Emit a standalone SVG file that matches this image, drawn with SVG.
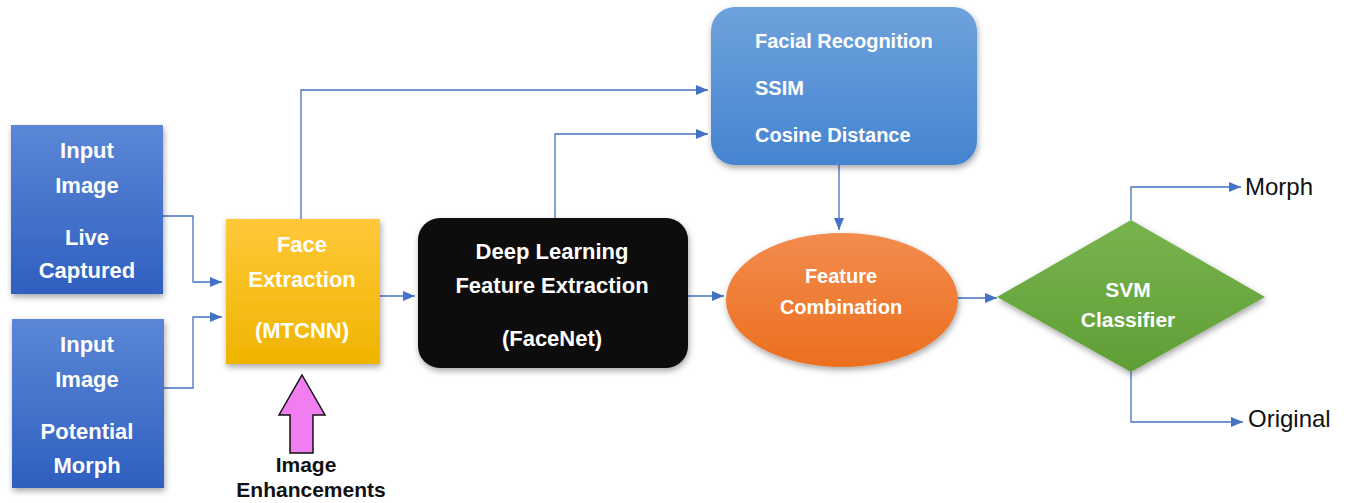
<svg xmlns="http://www.w3.org/2000/svg" width="1347" height="503" viewBox="0 0 1347 503">
  <style>
    .lbl { font-family: "Liberation Sans", Arial, sans-serif; font-weight: bold; fill: #ffffff; text-anchor: middle; }
    .lblL { font-family: "Liberation Sans", Arial, sans-serif; font-weight: bold; fill: #ffffff; }
    .dark { font-family: "Liberation Sans", Arial, sans-serif; font-weight: bold; fill: #111111; text-anchor: middle; }
    .out { font-family: "Liberation Sans", Arial, sans-serif; fill: #111111; font-size: 24px; }
    .wire { fill: none; stroke: #4472c4; stroke-width: 1.3; }
  </style>
  <defs>
    <linearGradient id="gBlue" x1="0" y1="0" x2="0" y2="1">
      <stop offset="0" stop-color="#5b87d6"/>
      <stop offset="1" stop-color="#2f5fc0"/>
    </linearGradient>
    <linearGradient id="gGold" x1="0" y1="0" x2="0" y2="1">
      <stop offset="0" stop-color="#ffc83a"/>
      <stop offset="1" stop-color="#f0b400"/>
    </linearGradient>
    <linearGradient id="gSky" x1="0" y1="0" x2="0" y2="1">
      <stop offset="0" stop-color="#6ea2dc"/>
      <stop offset="1" stop-color="#4584d0"/>
    </linearGradient>
    <linearGradient id="gOrange" x1="0" y1="0" x2="0" y2="1">
      <stop offset="0" stop-color="#f28c4e"/>
      <stop offset="1" stop-color="#ec6f1e"/>
    </linearGradient>
    <linearGradient id="gGreen" x1="0" y1="0" x2="0" y2="1">
      <stop offset="0" stop-color="#78b44e"/>
      <stop offset="1" stop-color="#5f9e36"/>
    </linearGradient>
    <filter id="shadow" x="-20%" y="-20%" width="140%" height="150%">
      <feDropShadow dx="1" dy="3" stdDeviation="3" flood-color="#000000" flood-opacity="0.35"/>
    </filter>
    <marker id="arrow" viewBox="0 0 12 10" refX="12" refY="5" markerWidth="12" markerHeight="10" markerUnits="userSpaceOnUse" orient="auto">
      <path d="M0,0 L12,5 L0,10 Z" fill="#4472c4"/>
    </marker>
  </defs>

  <!-- connectors -->
  <g id="connectors">
    <polyline class="wire" points="163,216 193,216 193,282 222,282" marker-end="url(#arrow)"/>
    <polyline class="wire" points="164,388 193,388 193,317 222,317" marker-end="url(#arrow)"/>
    <polyline class="wire" points="380,296 415,296" marker-end="url(#arrow)"/>
    <polyline class="wire" points="301,219 301,90 708,90" marker-end="url(#arrow)"/>
    <polyline class="wire" points="555,218 555,134 708,134" marker-end="url(#arrow)"/>
    <polyline class="wire" points="688,296 724,296" marker-end="url(#arrow)"/>
    <polyline class="wire" points="839,165 839,230" marker-end="url(#arrow)"/>
    <polyline class="wire" points="958,298 997,298" marker-end="url(#arrow)"/>
    <polyline class="wire" points="1131,220 1131,187 1241,187" marker-end="url(#arrow)"/>
    <polyline class="wire" points="1131,372 1131,422 1243,422" marker-end="url(#arrow)"/>
  </g>

  <g id="input-live">
    <rect x="11" y="125" width="152" height="169" fill="url(#gBlue)" filter="url(#shadow)"/>
    <text class="lbl" font-size="22" x="87" y="158">Input</text>
    <text class="lbl" font-size="22" x="87" y="193">Image</text>
    <text class="lbl" font-size="22" x="87" y="245">Live</text>
    <text class="lbl" font-size="22" x="87" y="278">Captured</text>
  </g>

  <g id="input-morph">
    <rect x="12" y="319" width="152" height="169" fill="url(#gBlue)" filter="url(#shadow)"/>
    <text class="lbl" font-size="22" x="87" y="352">Input</text>
    <text class="lbl" font-size="22" x="87" y="387">Image</text>
    <text class="lbl" font-size="22" x="87" y="439">Potential</text>
    <text class="lbl" font-size="22" x="87" y="473">Morph</text>
  </g>

  <g id="face-extraction">
    <rect x="226" y="219" width="154" height="145" fill="url(#gGold)" filter="url(#shadow)"/>
    <text class="lbl" font-size="22" x="302" y="252">Face</text>
    <text class="lbl" font-size="22" x="302" y="287">Extraction</text>
    <text class="lbl" font-size="22" x="302" y="338">(MTCNN)</text>
  </g>

  <g id="image-enhancements">
    <path d="M302,375 L325,415 L313,415 L313,453 L290,453 L290,415 L279,415 Z" fill="#f07ef0" stroke="#111111" stroke-width="1.5" stroke-linejoin="miter"/>
    <text class="dark" font-size="21" x="306" y="472">Image</text>
    <text class="dark" font-size="21" x="311" y="497">Enhancements</text>
  </g>

  <g id="deep-learning">
    <rect x="418" y="218" width="270" height="150" rx="22" ry="22" fill="#080808" filter="url(#shadow)"/>
    <text class="lbl" font-size="22" x="552" y="259">Deep Learning</text>
    <text class="lbl" font-size="22" x="552" y="293">Feature Extraction</text>
    <text class="lbl" font-size="22" x="552" y="346">(FaceNet)</text>
  </g>

  <g id="similarity-metrics">
    <rect x="711" y="7" width="266" height="158" rx="24" ry="24" fill="url(#gSky)" filter="url(#shadow)"/>
    <text class="lblL" font-size="20" x="755" y="48">Facial Recognition</text>
    <text class="lblL" font-size="20" x="755" y="95">SSIM</text>
    <text class="lblL" font-size="20" x="755" y="142">Cosine Distance</text>
  </g>

  <g id="feature-combination">
    <ellipse cx="842" cy="300" rx="116" ry="67" fill="url(#gOrange)" filter="url(#shadow)"/>
    <text class="lbl" font-size="20" x="841" y="283">Feature</text>
    <text class="lbl" font-size="20" x="841" y="314">Combination</text>
  </g>

  <g id="svm-classifier">
    <polygon points="997,297 1131,220 1265,297 1131,372" fill="url(#gGreen)" filter="url(#shadow)"/>
    <text class="lbl" font-size="21" x="1128" y="297">SVM</text>
    <text class="lbl" font-size="21" x="1128" y="327">Classifier</text>
  </g>

  <g id="outputs">
    <text class="out" x="1245" y="195">Morph</text>
    <text class="out" x="1248" y="427">Original</text>
  </g>
</svg>
